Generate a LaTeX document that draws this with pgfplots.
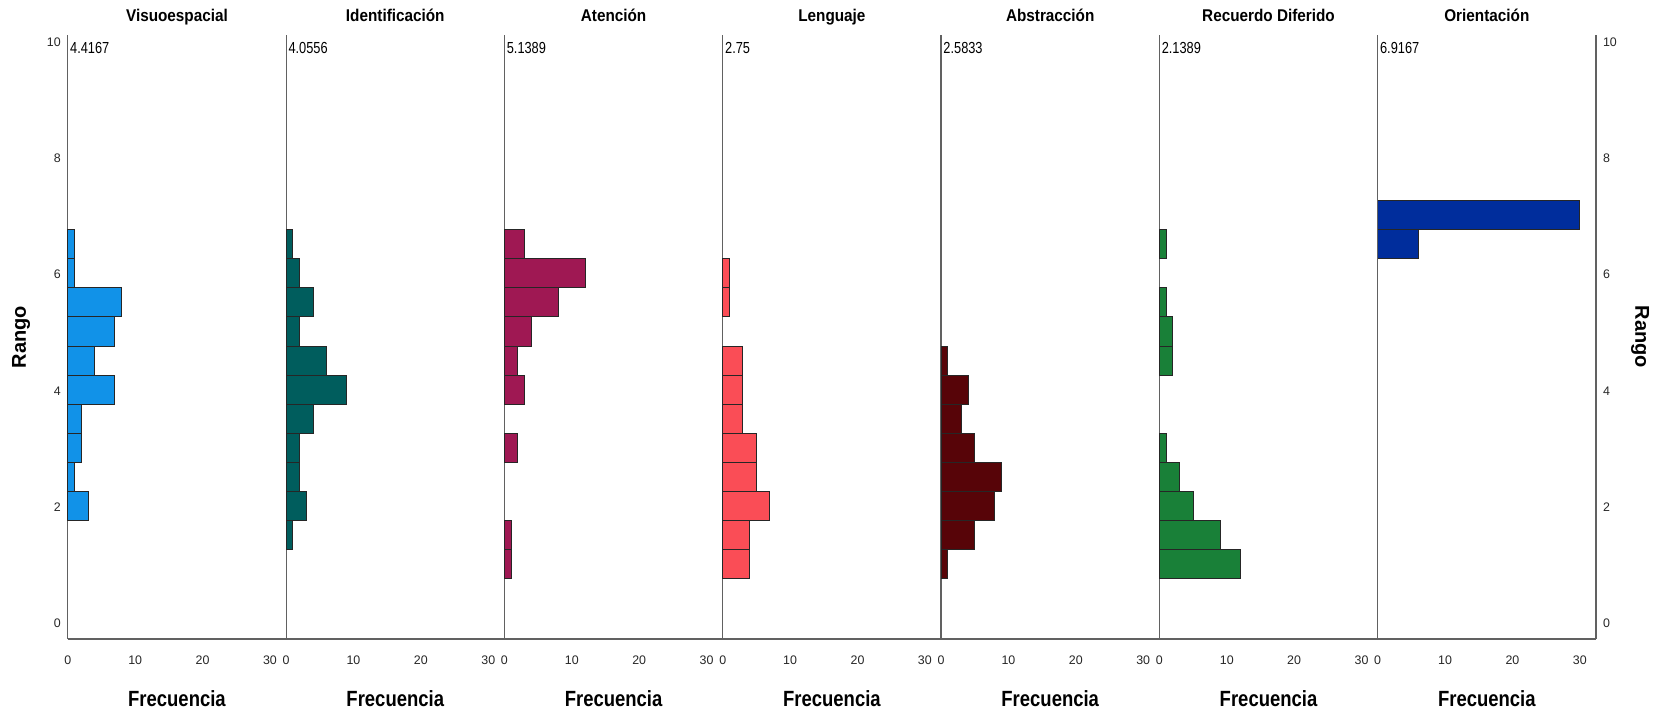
\documentclass[border=0pt]{standalone}
\usepackage{fontspec}
\setmainfont{Liberation Sans}
\usepackage{graphicx}
\usepackage{pgfplots}
\pgfplotsset{compat=1.18}

\definecolor{cVis}{HTML}{1192E8}
\definecolor{cIde}{HTML}{005D5D}
\definecolor{cAte}{HTML}{9F1853}
\definecolor{cLen}{HTML}{FA4D56}
\definecolor{cAbs}{HTML}{570408}
\definecolor{cRec}{HTML}{198038}
\definecolor{cOri}{HTML}{002D9C}

\newcommand{\meanlab}[1]{\node[anchor=west, inner sep=1pt, font=\fontsize{8}{9}\selectfont] at (axis cs:0,9.89) {\scalebox{0.8}[1]{#1}};}
\newcommand{\ttl}[1]{\node[anchor=base, inner sep=0pt, font=\bfseries\fontsize{8.5}{10}\selectfont] at ([yshift=6.5pt]rel axis cs:0.5,1) {\scalebox{0.9}[1]{#1}};}

\tikzset{
  rango/.style={font=\bfseries\fontsize{10}{12}\selectfont},
}
\pgfplotsset{
  panel/.style={
    scale only axis, width=109.15pt, height=302pt,
    xmin=0, xmax=32.4, ymin=-0.27, ymax=10.12,
    axis x line*=bottom, axis y line*=left,
    axis line style={black!62, line width=0.6pt, -},
    xtick={0,10,20,30}, ytick=\empty,
    major tick length=0pt,
    tick label style={font=\fontsize{6.2}{7}\selectfont, text=black!85},
    /pgf/number format/assume math mode=true,
    xticklabel style={anchor=center, yshift=-10.5pt},
    xlabel={\scalebox{0.84}[1]{Frecuencia}},
    xlabel style={font=\bfseries\fontsize{11}{12}\selectfont, at={(rel axis cs:0.5,0)}, anchor=center, yshift=-30pt},
    xbar, bar width=0.5, bar shift=0pt,
    anchor=south west,
    clip=false,
  },
  bars/.style={draw=black!85, line width=0.5pt, fill=#1},
}

\begin{document}
\begin{tikzpicture}
\useasboundingbox (-33.9pt,-38pt) rectangle (796.55pt,319.5pt);

% Visuoespacial
\begin{axis}[panel, at={(0pt,0pt)}, ytick={0,2,4,6,8,10}, yticklabel style={anchor=east}]
\addplot[bars=cVis] coordinates {(3,2.02) (1,2.52) (2,3.02) (2,3.52) (7,4.02) (4,4.52) (7,5.02) (8,5.52) (1,6.02) (1,6.52)};
\meanlab{4.4167}
\ttl{Visuoespacial}
\node[rango, rotate=90] at ([xshift=-23.3pt]rel axis cs:0,0.5) {Rango};
\end{axis}

% Identificacion
\begin{axis}[panel, at={(109.15pt,0pt)}]
\addplot[bars=cIde] coordinates {(1,1.52) (3,2.02) (2,2.52) (2,3.02) (4,3.52) (9,4.02) (6,4.52) (2,5.02) (4,5.52) (2,6.02) (1,6.52)};
\meanlab{4.0556}
\ttl{Identificación}
\end{axis}

% Atencion
\begin{axis}[panel, at={(218.3pt,0pt)}]
\addplot[bars=cAte] coordinates {(1,1.02) (1,1.52) (2,3.02) (3,4.02) (2,4.52) (4,5.02) (8,5.52) (12,6.02) (3,6.52)};
\meanlab{5.1389}
\ttl{Atención}
\end{axis}

% Lenguaje
\begin{axis}[panel, at={(327.45pt,0pt)}]
\addplot[bars=cLen] coordinates {(4,1.02) (4,1.52) (7,2.02) (5,2.52) (5,3.02) (3,3.52) (3,4.02) (3,4.52) (1,5.52) (1,6.02)};
\meanlab{2.75}
\ttl{Lenguaje}
\end{axis}

% Abstraccion
\begin{axis}[panel, at={(436.6pt,0pt)}]
\addplot[bars=cAbs] coordinates {(1,1.02) (5,1.52) (8,2.02) (9,2.52) (5,3.02) (3,3.52) (4,4.02) (1,4.52)};
\meanlab{2.5833}
\ttl{Abstracción}
\end{axis}

% Recuerdo Diferido
\begin{axis}[panel, at={(545.75pt,0pt)}]
\addplot[bars=cRec] coordinates {(12,1.02) (9,1.52) (5,2.02) (3,2.52) (1,3.02) (2,4.52) (2,5.02) (1,5.52) (1,6.52)};
\meanlab{2.1389}
\ttl{Recuerdo Diferido}
\end{axis}

% Orientacion
\begin{axis}[panel, at={(654.9pt,0pt)},
  axis y line*=right, ytick={0,2,4,6,8,10}, yticklabel style={anchor=west}]
\addplot[bars=cOri] coordinates {(6,6.52) (30,7.02)};
\draw[black!62, line width=0.6pt] (axis cs:0,-0.27) -- (axis cs:0,10.12);
\meanlab{6.9167}
\ttl{Orientación}
\node[rango, rotate=-90] at ([xshift=22pt]rel axis cs:1,0.5) {Rango};
\end{axis}
\end{tikzpicture}
\end{document}
